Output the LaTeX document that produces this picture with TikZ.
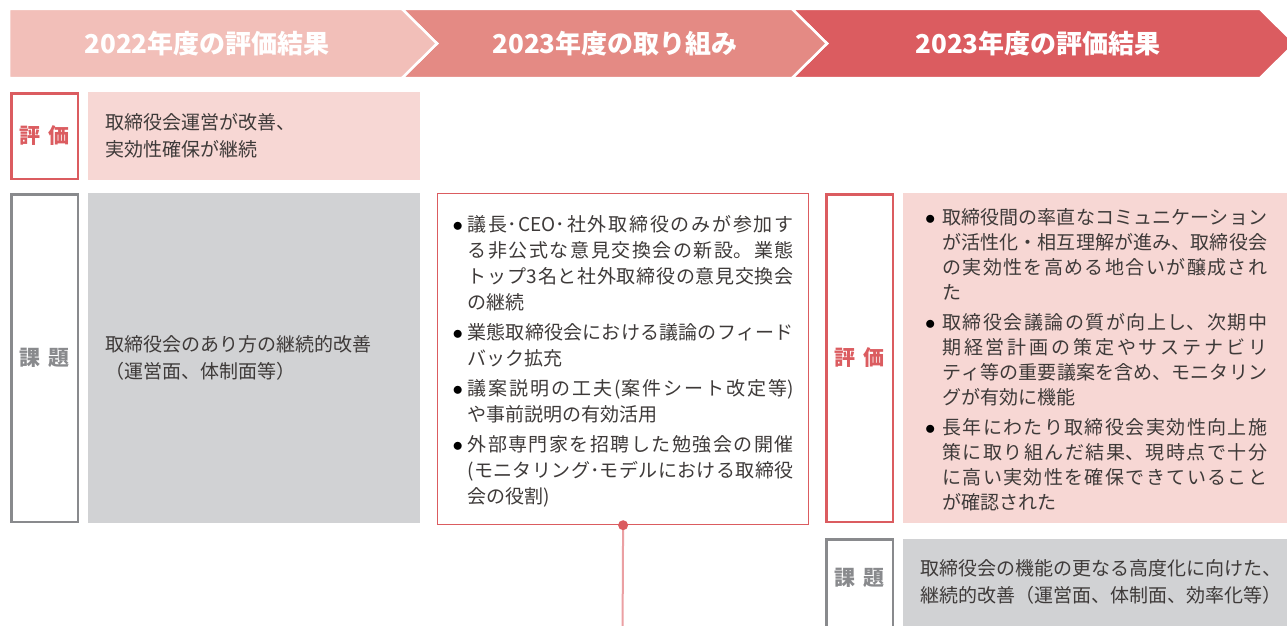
\documentclass[tikz,border=0pt]{standalone}
\usepackage{fontspec}
\setmainfont{Noto Sans CJK JP}
\XeTeXlinebreaklocale "ja"
\XeTeXlinebreakskip=0pt plus 4pt
\setlength\parindent{0pt}

\definecolor{chevA}{HTML}{F2BFB9}
\definecolor{chevB}{HTML}{E48A84}
\definecolor{chevC}{HTML}{DB5C60}
\definecolor{rot}{HTML}{DB5C60}
\definecolor{rosa}{HTML}{F7D7D4}
\definecolor{grau}{HTML}{D1D2D4}
\definecolor{graurand}{HTML}{898A8D}
\definecolor{schrift}{HTML}{3E3A39}
\definecolor{linie}{HTML}{EBA0A3}

\newlength\bind
\newcommand\bitem{\par\noindent\hangindent=\bind\hangafter=1\makebox[\bind][l]{\fontsize{21}{21}\selectfont\color{black}$\bullet$}}

\begin{document}
\begin{tikzpicture}[x=1pt,y=-1pt,
	kopf/.style={text=white,font=\fontsize{26}{30}\selectfont\bfseries},
	hyoka/.style={draw=rot,line width=2.5pt,text=rot,minimum width=66.5pt,font=\fontsize{21}{25}\selectfont\bfseries},
	kadai/.style={hyoka,draw=graurand,text=graurand},
	inhalt/.style={anchor=north west,inner xsep=17pt,inner ysep=0pt,align=left,text=schrift,font=\fontsize{19}{27}\selectfont},
	liste/.style={anchor=north west,inner ysep=0pt,align=justify,text=schrift,font=\fontsize{19}{26}\selectfont}]
	\useasboundingbox (0,0) rectangle (1287,626);
	\clip (0,0) rectangle (1287,626);

	% Kopfzeile
	\filldraw[fill=chevC,draw=white,line width=2.5pt] (792,9) -- (1260,9) -- (1295,43.5) -- (1260,78) -- (792,78) -- (827,43.5) -- cycle;
	\filldraw[fill=chevB,draw=white,line width=2.5pt] (402,9) -- (792,9) -- (827,43.5) -- (792,78) -- (402,78) -- (437,43.5) -- cycle;
	\filldraw[fill=chevA,draw=white,line width=2.5pt] (9,9) -- (402,9) -- (437,43.5) -- (402,78) -- (9,78) -- cycle;
	\node[kopf] (A) at (207,43.5) {2022年度の評価結果};
	\node[kopf] (B) at (615,43.5) {2023年度の取り組み};
	\node[kopf] (C) at (1038,43.5) {2023年度の評価結果};

	% 2022
	\node[hyoka,minimum height=85.5pt] (D) at (44.5,136) {評\hspace{0.4em}価};
	\node[inhalt,fill=rosa,minimum width=332pt,minimum height=88pt,text width=298pt] (E) at (88,92) {取締役会運営が改善、\\実効性確保が継続};
	\node[kadai,minimum height=327.5pt] (F) at (44.5,358) {課\hspace{0.4em}題};
	\node[inhalt,fill=grau,minimum width=332pt,minimum height=330pt,text width=298pt] (G) at (88,193) {取締役会のあり方の継続的改善\\（運営面、体制面等）};

	% 2023 Massnahmen
	\node[liste,draw=rot,line width=1.2pt,inner xsep=15pt,text width=341pt,minimum height=331pt] (H) at (437,193) {\bind=15pt\parskip=4pt
	\bitem 議長･CEO･社外取締役のみが参加す\linebreak る非公式な意見交換会の新設。業態\linebreak トップ3名と社外取締役の意見交換会\linebreak の継続
	\bitem 業態取締役会における議論のフィード\linebreak バック拡充
	\bitem 議案説明の工夫(案件シート改定等)\linebreak や事前説明の有効活用
	\bitem 外部専門家を招聘した勉強会の開催\linebreak (モニタリング･モデルにおける取締役\linebreak 会の役割)\par\vspace{9pt}};

	% 2023 Ergebnis
	\node[hyoka,minimum height=327.5pt] (I) at (859.5,358) {評\hspace{0.4em}価};
	\node[liste,fill=rosa,inner xsep=22pt,text width=342pt,minimum height=330pt] (J) at (903,193) {\fontsize{19}{25}\selectfont\bind=17pt\parskip=5pt
	\bitem 取締役間の率直なコミュニケーション\linebreak が活性化・相互理解が進み、取締役会\linebreak の実効性を高める地合いが醸成され\linebreak た
	\bitem 取締役会議論の質が向上し、次期中\linebreak 期経営計画の策定やサステナビリ\linebreak ティ等の重要議案を含め、モニタリン\linebreak グが有効に機能
	\bitem 長年にわたり取締役会実効性向上施\linebreak 策に取り組んだ結果、現時点で十分\linebreak に高い実効性を確保できていること\linebreak が確認された\par\vspace{11pt}};
	\node[kadai,minimum height=99.5pt,text depth=25pt] (K) at (859.5,589) {課\hspace{0.4em}題};
	\node[inhalt,fill=grau,minimum height=101pt,text width=370pt,text depth=45pt] (L) at (903,539) {取締役会の機能の更なる高度化に向けた、\\継続的改善（運営面、体制面、効率化等）};

	\coordinate (M) at (622.5,640);
	\draw[linie,line width=2pt] (H.south) -- (M);
	\fill[rot] (H.south) circle (5);
\end{tikzpicture}
\end{document}
